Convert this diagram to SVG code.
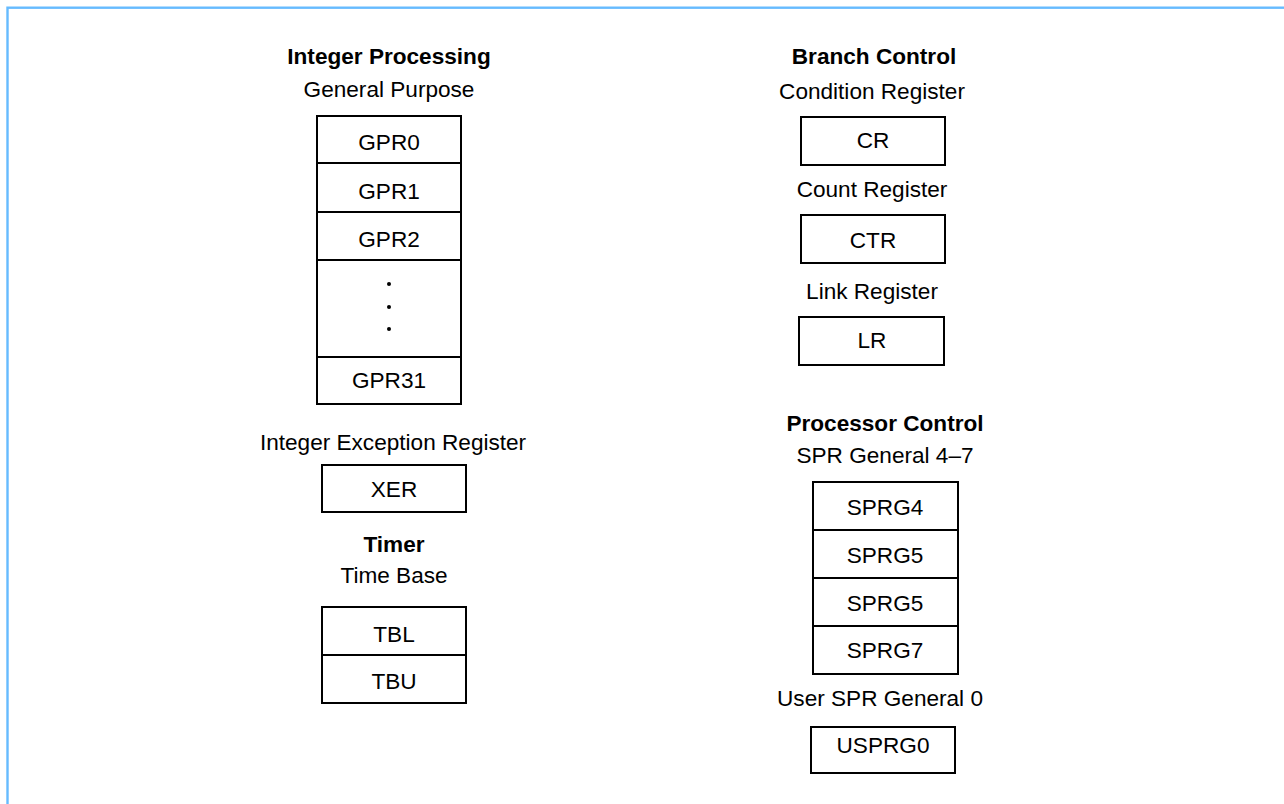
<svg xmlns="http://www.w3.org/2000/svg" width="1284" height="804" viewBox="0 0 1284 804">
<style>
text{font-family:"Liberation Sans",Arial,sans-serif;font-size:22.6px;fill:#000;text-anchor:middle}
.h{font-weight:bold}
.box{fill:#fff;stroke:#000;stroke-width:2}
.ln{stroke:#000;stroke-width:2}
</style>
<rect x="7.5" y="7.7" width="1300" height="820" fill="#fff" stroke="#66bbff" stroke-width="2.4"/>
<g id="integer-processing">
<text class="h" x="389" y="64">Integer Processing</text>
<text x="389" y="97">General Purpose</text>
<rect class="box" x="317" y="116" width="144" height="288"/>
<line class="ln" x1="317" y1="163" x2="461" y2="163"/>
<line class="ln" x1="317" y1="212" x2="461" y2="212"/>
<line class="ln" x1="317" y1="260" x2="461" y2="260"/>
<line class="ln" x1="317" y1="357" x2="461" y2="357"/>
<text x="389" y="150">GPR0</text>
<text x="389" y="199">GPR1</text>
<text x="389" y="247">GPR2</text>
<circle cx="389" cy="284" r="2"/>
<circle cx="389" cy="307" r="2"/>
<circle cx="389" cy="329" r="2"/>
<text x="389" y="388">GPR31</text>
</g>
<g id="xer">
<text x="393" y="450">Integer Exception Register</text>
<rect class="box" x="322" y="465" width="144" height="47"/>
<text x="394" y="497">XER</text>
</g>
<g id="timer">
<text class="h" x="394" y="552">Timer</text>
<text x="394" y="583">Time Base</text>
<rect class="box" x="322" y="607" width="144" height="96"/>
<line class="ln" x1="322" y1="655" x2="466" y2="655"/>
<text x="394" y="642">TBL</text>
<text x="394" y="689">TBU</text>
</g>
<g id="branch-control">
<text class="h" x="874" y="64">Branch Control</text>
<text x="872" y="99">Condition Register</text>
<rect class="box" x="801" y="117" width="144" height="48"/>
<text x="873" y="148">CR</text>
<text x="872" y="197">Count Register</text>
<rect class="box" x="801" y="215" width="144" height="48"/>
<text x="873" y="248">CTR</text>
<text x="872" y="299">Link Register</text>
<rect class="box" x="799" y="317" width="145" height="48"/>
<text x="872" y="348">LR</text>
</g>
<g id="processor-control">
<text class="h" x="885" y="431">Processor Control</text>
<text x="885" y="463">SPR General 4–7</text>
<rect class="box" x="813" y="482" width="145" height="192"/>
<line class="ln" x1="813" y1="530" x2="958" y2="530"/>
<line class="ln" x1="813" y1="578" x2="958" y2="578"/>
<line class="ln" x1="813" y1="626" x2="958" y2="626"/>
<text x="885" y="515">SPRG4</text>
<text x="885" y="563">SPRG5</text>
<text x="885" y="611">SPRG5</text>
<text x="885" y="658">SPRG7</text>
</g>
<g id="usprg0">
<text x="880" y="706">User SPR General 0</text>
<rect class="box" x="811" y="727" width="144" height="46"/>
<text x="883" y="753">USPRG0</text>
</g>
<g id="connectors"></g>
</svg>
